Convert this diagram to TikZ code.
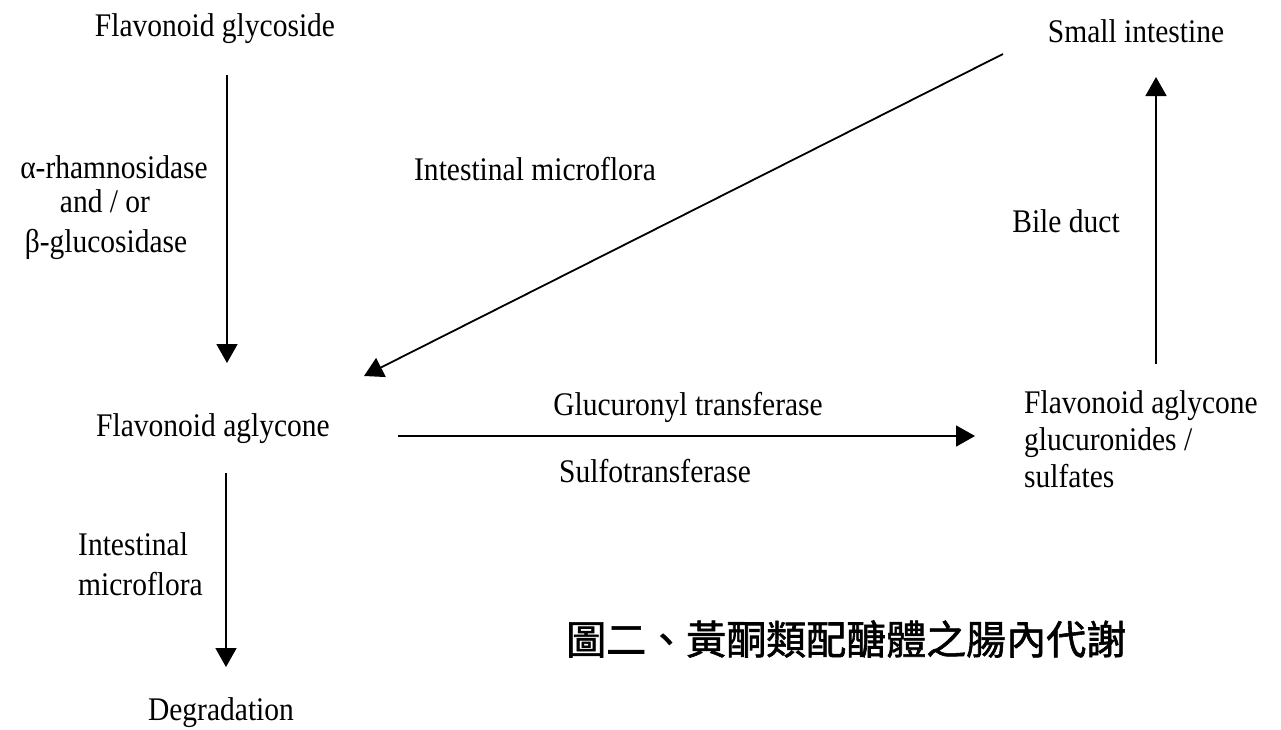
\documentclass[tikz,border=0pt]{standalone}
\usepackage{fontspec}
\setmainfont{Liberation Serif}[FakeStretch=0.894]
\newfontfamily\cjk{Noto Sans CJK TC}[FakeBold=1.5]
\usetikzlibrary{arrows.meta}
\begin{document}
\begin{tikzpicture}[x=1pt,y=-1pt,
  lbl/.style={inner sep=0pt,anchor=base,font=\fontsize{33}{40}\selectfont},
  lbll/.style={lbl,anchor=base west},
  conn/.style={line width=1.8pt,-{Triangle[length=19pt,width=21pt]}}]
\useasboundingbox[fill=white] (0,0) rectangle (1281,729);
% text nodes
\node[lbl] (glyc) at (215,36) {Flavonoid glycoside};
\node[lbl] (small) at (1136,42) {Small intestine};
\node[lbl] (imf) at (535,180) {Intestinal microflora};
\node[lbl] (enz1) at (114,178) {α-rhamnosidase};
\node[lbl] (enz2) at (105,212) {and / or};
\node[lbl] (enz3) at (106,252) {β-glucosidase};
\node[lbl] (bile) at (1066,232) {Bile duct};
\node[lbl] (agly) at (213,436) {Flavonoid aglycone};
\node[lbl] (gluc) at (688,415) {Glucuronyl transferase};
\node[lbl] (sulf) at (655,482) {Sulfotransferase};
\node[lbll] (r1) at (1024,413) {Flavonoid aglycone};
\node[lbll] (r2) at (1024,450) {glucuronides /};
\node[lbll] (r3) at (1024,487) {sulfates};
\node[lbll] (im1) at (78,555) {Intestinal};
\node[lbll] (im2) at (78,595) {microflora};
\node[lbl] (deg) at (221,720) {Degradation};
\node[inner sep=0pt,anchor=west,font=\cjk\fontsize{40}{48}\selectfont] (title) at (566,639) {圖二、黃酮類配醣體之腸內代謝};
% connector end points
\coordinate (a1s) at (227,75);
\coordinate (a1e) at (227,363);
\coordinate (dgs) at (1003,54);
\coordinate (dge) at (364,376);
\coordinate (bls) at (1156,364);
\coordinate (ble) at (1156,77);
\coordinate (hzs) at (398,436);
\coordinate (hze) at (975,436);
\coordinate (dns) at (226,473);
\coordinate (dne) at (226,667);
% connectors
\draw[conn] (a1s) -- (a1e);
\draw[conn] (dgs) -- (dge);
\draw[conn] (bls) -- (ble);
\draw[conn] (hzs) -- (hze);
\draw[conn] (dns) -- (dne);
\end{tikzpicture}
\end{document}
